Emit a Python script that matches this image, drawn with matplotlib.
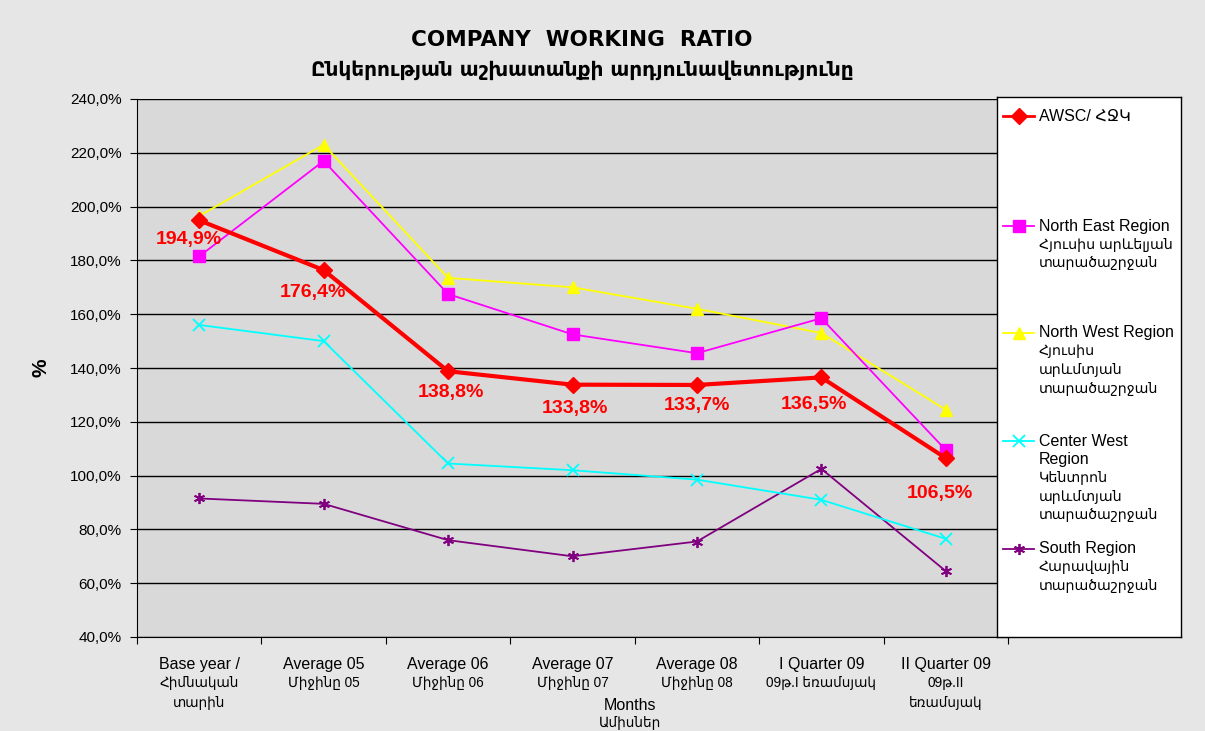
"""Company working ratio by region, line chart with side legend."""

import matplotlib.pyplot as plt
from matplotlib.lines import Line2D
from matplotlib.ticker import FuncFormatter

FAM = ["Liberation Sans", "DejaVu Sans"]

categories = [
    "Base year /\nՀիմնական\nտարին",
    "Average 05\nՄիջինը 05",
    "Average 06\nՄիջինը 06",
    "Average 07\nՄիջինը 07",
    "Average 08\nՄիջինը 08",
    "I Quarter 09\n09թ.I եռամսյակ",
    "II Quarter 09\n09թ.II\nեռամսյակ",
]

awsc = [194.9, 176.4, 138.8, 133.8, 133.7, 136.5, 106.5]
north_east = [181.5, 217.0, 167.5, 152.5, 145.5, 158.5, 109.5]
north_west = [196.5, 223.0, 173.5, 170.0, 162.0, 153.0, 124.5]
center_west = [156.0, 150.0, 104.5, 102.0, 98.5, 91.0, 76.5]
south = [91.5, 89.5, 76.0, 70.0, 75.5, 102.5, 64.5]

series_labels = [
    "AWSC/ ՀՋԿ",
    "North East Region\nՀյուսիս արևելյան\nտարածաշրջան",
    "North West Region\nՀյուսիս\nարևմտյան\nտարածաշրջան",
    "Center West\nRegion\nԿենտրոն\nարևմտյան\nտարածաշրջան",
    "South Region\nՀարավային\nտարածաշրջան",
]

yticks = [40, 60, 80, 100, 120, 140, 160, 180, 200, 220, 240]

# pixel offsets of the value labels from their points
label_dx = [-10, -11, 3, 2, 0, -7, -6]
label_dy = [-19, -22, -21, -24, -21, -27, -35]

styles = [
    dict(color="#ff0000", lw=3.0, marker="D", ms=8, mec="#ff0000", mfc="#ff0000"),
    dict(color="#ff00ff", lw=1.3, marker="s", ms=8, mec="#ff00ff", mfc="#ff00ff"),
    dict(color="#ffff00", lw=1.3, marker="^", ms=8, mec="#ffff00", mfc="#ffff00"),
    dict(color="#00ffff", lw=1.3, marker="x", ms=8, mew=1.3),
    dict(color="#800080", lw=1.3, marker=(6, 2, 0), ms=8, mew=1.3),
]


def has_arm(s):
    return any(0x0530 <= ord(c) <= 0x058F for c in s)


fig = plt.figure(figsize=(12.05, 7.31), dpi=100)
fig.patch.set_facecolor("#e6e6e6")

ax = fig.add_axes([137 / 1205, 94 / 731, 871 / 1205, 538 / 731])
ax.set_facecolor("#d9d9d9")

x = list(range(len(categories)))
all_series = [awsc, north_east, north_west, center_west, south]
# thin series first, the company line on top
for vals, st in list(zip(all_series, styles))[::-1]:
    ax.plot(x, vals, zorder=3, **st)

for xi, v, dx, dy in zip(x, awsc, label_dx, label_dy):
    ax.annotate(f"{v:.1f}%".replace(".", ","), (xi, v), xytext=(dx, dy),
                textcoords="offset pixels", ha="center", va="center",
                color="#ff0000", fontsize=14, fontweight="bold",
                family=FAM, zorder=5)

ax.set_xlim(-0.5, len(categories) - 0.5)
ax.set_ylim(40, 240)
ax.set_yticks(yticks)
ax.yaxis.set_major_formatter(FuncFormatter(lambda v, p: f"{v:.1f}%".replace(".", ",")))
ax.yaxis.grid(True, color="black", lw=1.0)
ax.set_axisbelow(True)
ax.set_xticks([i - 0.5 for i in range(len(categories) + 1)])
ax.set_xticklabels([])
ax.tick_params(axis="x", length=5, direction="out")
ax.tick_params(axis="y", length=5, labelsize=11, pad=6)
for lbl in ax.get_yticklabels():
    lbl.set_family(FAM)
for s in ["top", "right"]:
    ax.spines[s].set_visible(False)

# category labels, one text per line so the Armenian lines can be narrower
for xi, lab in zip(x, categories):
    for j, line in enumerate(lab.split("\n")):
        ax.annotate(line, xy=(xi, 0), xycoords=ax.get_xaxis_transform(),
                    xytext=(0, -27 - 19.5 * j), textcoords="offset pixels",
                    ha="center", va="center", family=FAM,
                    fontsize=9.8 if has_arm(line) else 11.5)

ax.set_ylabel("%", fontsize=15, fontweight="bold", family=FAM, labelpad=14)

fig.text(582 / 1205, 1 - 40 / 731, "COMPANY  WORKING  RATIO", ha="center", va="center",
         fontsize=15.5, fontweight="bold", family=["DejaVu Sans"])
fig.text(582 / 1205, 1 - 70 / 731, "Ընկերության աշխատանքի արդյունավետությունը",
         ha="center", va="center", fontsize=14.5, fontweight="bold",
         family=["DejaVu Sans"])
fig.text(630 / 1205, 1 - 705 / 731, "Months", ha="center", va="center",
         fontsize=11.5, family=FAM)
fig.text(630 / 1205, 1 - 723 / 731, "Ամիսներ", ha="center", va="center",
         fontsize=9.8, family=FAM)

# legend box drawn as its own axes on top of the plot's right edge
lax = fig.add_axes([997 / 1205, 94 / 731, 184 / 1205, 540 / 731])
lax.set_facecolor("white")
lax.set_xlim(0, 184)
lax.set_ylim(540, 0)
lax.set_xticks([])
lax.set_yticks([])
for s in lax.spines.values():
    s.set_color("black")
    s.set_linewidth(1.0)
entry_y = [19, 129, 236, 344, 452]
for ey, st, lab in zip(entry_y, styles, series_labels):
    line_st = {k: v for k, v in st.items() if not k.startswith("m")}
    line_st["lw"] = min(st["lw"], 2.0)
    lax.add_line(Line2D([6, 37], [ey, ey], **line_st))
    lax.add_line(Line2D([22], [ey], ls="none", **{k: v for k, v in st.items() if k != "lw"}))
    for j, line in enumerate(lab.split("\n")):
        size = 11.5 if line[0].isascii() else 10.2
        lax.text(42, ey + 18.5 * j, line, va="center", ha="left", family=FAM,
                 fontsize=size)

fig.savefig("out.png", dpi=100, facecolor=fig.get_facecolor())
